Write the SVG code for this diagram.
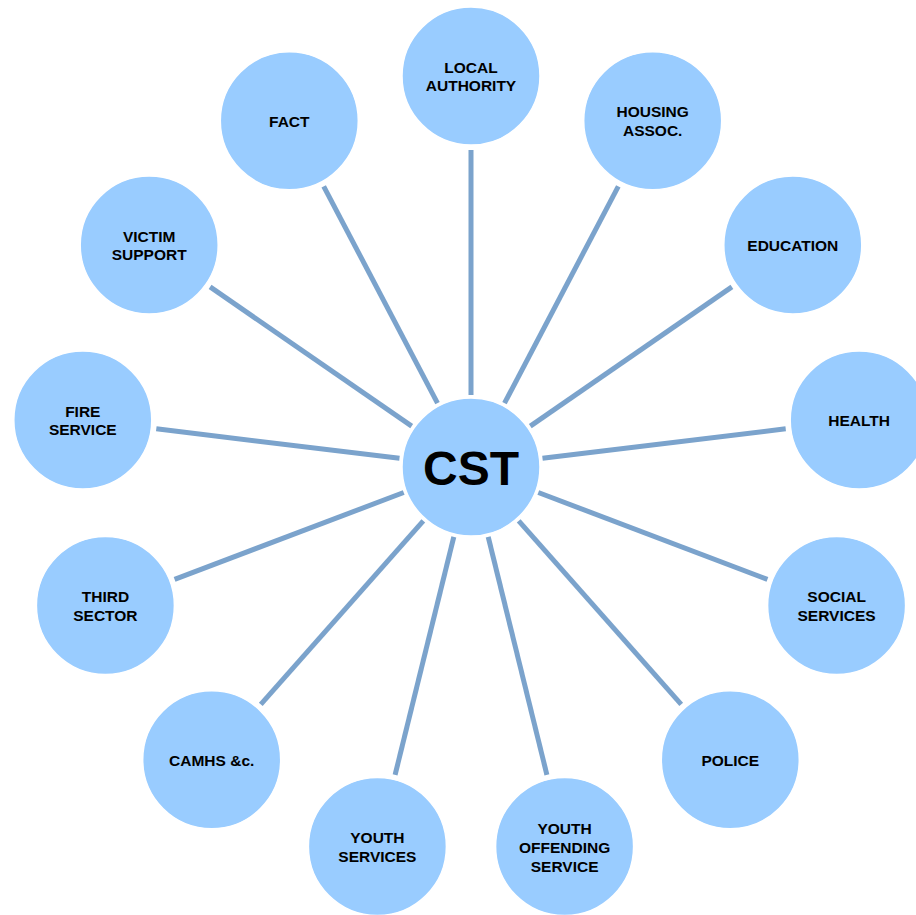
<svg xmlns="http://www.w3.org/2000/svg" width="916" height="915" viewBox="0 0 916 915">
<style>
.n{fill:#99CCFF;stroke:#FFFFFF;stroke-width:1.5}
.t{font-family:"Liberation Sans",Arial,sans-serif;font-weight:bold;font-size:15.5px;fill:#000000;text-anchor:middle}
.c{font-family:"Liberation Sans",Arial,sans-serif;font-weight:bold;font-size:48px;fill:#000000;text-anchor:middle}
.l{stroke:#7BA3CC;stroke-width:5;stroke-linecap:butt}
</style>
<rect width="916" height="915" fill="#FFFFFF"/>
<g id="connectors">
<line class="l" x1="471" y1="395" x2="471" y2="150"/>
<line class="l" x1="504.5" y1="403.2" x2="618.3" y2="186.3"/>
<line class="l" x1="530.3" y1="426.1" x2="731.9" y2="286.9"/>
<line class="l" x1="542.5" y1="458.3" x2="785.7" y2="428.8"/>
<line class="l" x1="538.3" y1="492.5" x2="767.4" y2="579.4"/>
<line class="l" x1="518.7" y1="520.9" x2="681.2" y2="704.3"/>
<line class="l" x1="488.2" y1="536.9" x2="546.9" y2="774.8"/>
<line class="l" x1="453.8" y1="536.9" x2="395.1" y2="774.8"/>
<line class="l" x1="423.3" y1="520.9" x2="260.8" y2="704.3"/>
<line class="l" x1="403.7" y1="492.5" x2="174.6" y2="579.4"/>
<line class="l" x1="399.5" y1="458.3" x2="156.3" y2="428.8"/>
<line class="l" x1="411.7" y1="426.1" x2="210.1" y2="286.9"/>
<line class="l" x1="437.5" y1="403.2" x2="323.7" y2="186.3"/>
</g>
<g id="cst"><circle class="n" cx="471" cy="467" r="69"/><text class="c" x="471" y="485">CST</text></g>
<g id="local-authority"><circle class="n" cx="471" cy="76" r="69"/><text class="t" x="471" y="72.5">LOCAL</text><text class="t" x="471" y="91">AUTHORITY</text></g>
<g id="housing"><circle class="n" cx="652.7" cy="120.8" r="69"/><text class="t" x="652.7" y="117">HOUSING</text><text class="t" x="652.7" y="135.5">ASSOC.</text></g>
<g id="education"><circle class="n" cx="792.8" cy="244.9" r="69"/><text class="t" x="792.8" y="250.5">EDUCATION</text></g>
<g id="health"><circle class="n" cx="859.2" cy="419.9" r="69"/><text class="t" x="859.2" y="425.5">HEALTH</text></g>
<g id="social-services"><circle class="n" cx="836.6" cy="605.6" r="69"/><text class="t" x="836.6" y="602">SOCIAL</text><text class="t" x="836.6" y="620.5">SERVICES</text></g>
<g id="police"><circle class="n" cx="730.3" cy="759.7" r="69"/><text class="t" x="730.3" y="765.5">POLICE</text></g>
<g id="youth-offending"><circle class="n" cx="564.6" cy="846.6" r="69"/><text class="t" x="564.6" y="834">YOUTH</text><text class="t" x="564.6" y="853">OFFENDING</text><text class="t" x="564.6" y="872">SERVICE</text></g>
<g id="youth-services"><circle class="n" cx="377.4" cy="846.6" r="69"/><text class="t" x="377.4" y="843">YOUTH</text><text class="t" x="377.4" y="861.5">SERVICES</text></g>
<g id="camhs"><circle class="n" cx="211.7" cy="759.7" r="69"/><text class="t" x="211.7" y="765.5">CAMHS &amp;c.</text></g>
<g id="third-sector"><circle class="n" cx="105.4" cy="605.6" r="69"/><text class="t" x="105.4" y="602">THIRD</text><text class="t" x="105.4" y="620.5">SECTOR</text></g>
<g id="fire-service"><circle class="n" cx="82.8" cy="419.9" r="69"/><text class="t" x="82.8" y="416.5">FIRE</text><text class="t" x="82.8" y="435">SERVICE</text></g>
<g id="victim-support"><circle class="n" cx="149.2" cy="244.9" r="69"/><text class="t" x="149.2" y="241.5">VICTIM</text><text class="t" x="149.2" y="260">SUPPORT</text></g>
<g id="fact"><circle class="n" cx="289.3" cy="120.8" r="69"/><text class="t" x="289.3" y="126.5">FACT</text></g>
</svg>
